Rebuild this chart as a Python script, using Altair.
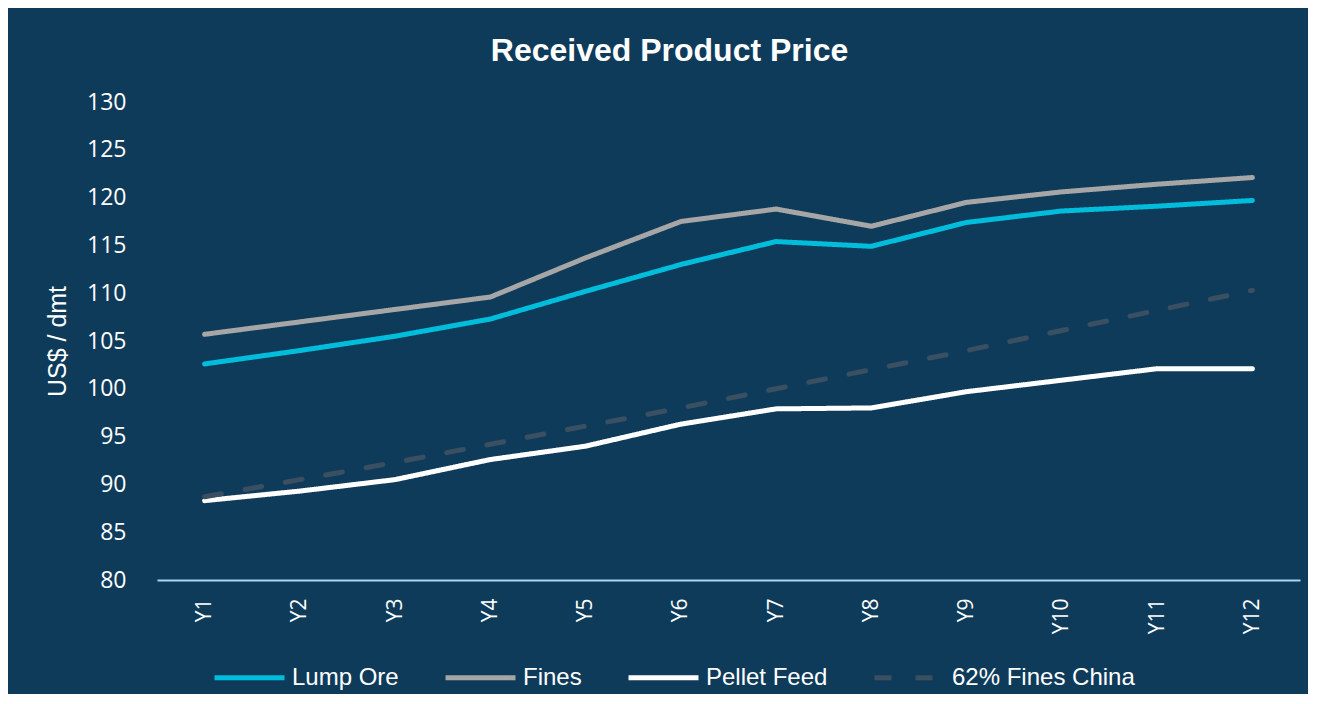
import altair as alt
import pandas as pd

years = ["Y1", "Y2", "Y3", "Y4", "Y5", "Y6", "Y7", "Y8", "Y9", "Y10", "Y11", "Y12"]
lump_ore = [102.6, 104.0, 105.5, 107.3, 110.2, 113.0, 115.4, 114.9, 117.4, 118.6, 119.1, 119.7]
fines = [105.7, 107.0, 108.3, 109.6, 113.7, 117.5, 118.8, 117.0, 119.5, 120.6, 121.4, 122.1]
pellet_feed = [88.3, 89.3, 90.5, 92.6, 94.0, 96.3, 97.9, 98.0, 99.7, 100.9, 102.1, 102.1]
fines_china = [88.7, 90.5, 92.3, 94.2, 96.1, 98.0, 100.0, 102.0, 104.0, 106.1, 108.2, 110.3]
y_ticks = [80, 85, 90, 95, 100, 105, 110, 115, 120, 125, 130]

series_names = ["Lump Ore", "Fines", "Pellet Feed", "62% Fines China"]
series_values = [lump_ore, fines, pellet_feed, fines_china]
series_colors = ["#00bedb", "#a6a6a6", "#ffffff", "#3a4f62"]
series_dash = [[1, 0], [1, 0], [1, 0], [17, 24]]

rows = []
for name, vals in zip(series_names, series_values):
    for yr, v in zip(years, vals):
        rows.append({"year": yr, "value": v, "series": name})
df = pd.DataFrame(rows)

NAVY = "#0f3b5b"

legend = alt.Legend(
    title=None, orient="none", legendX=55, legendY=538, direction="horizontal",
    symbolType="stroke", symbolSize=4900, symbolStrokeWidth=5,
    labelFontSize=24, labelFont="Liberation Sans", labelColor="white", labelLimit=400,
    columnPadding=36, labelOffset=5,
)

lines = alt.Chart(df).mark_line(strokeWidth=5, strokeCap="round", strokeJoin="round").encode(
    x=alt.X("year:O", sort=years, scale=alt.Scale(type="point", padding=0.5),
            axis=alt.Axis(title=None, labelAngle=-90, labelFont="Open Sans", labelFontSize=21,
                          labelColor="white", labelPadding=18, ticks=False,
                          domainColor="#a9d6ec", domainWidth=2)),
    y=alt.Y("value:Q", scale=alt.Scale(domain=[80, 130], nice=False, zero=False),
            axis=alt.Axis(values=y_ticks, title="US$ / dmt", grid=False, domain=False, ticks=False,
                          labelFont="Open Sans", labelFontSize=23, labelColor="white",
                          labelPadding=31, titleFont="Liberation Sans", titleFontSize=25,
                          titleFontWeight="normal", titleColor="white", titlePadding=16)),
    color=alt.Color("series:N", scale=alt.Scale(domain=series_names, range=series_colors), legend=legend),
    strokeDash=alt.StrokeDash("series:N", scale=alt.Scale(domain=series_names, range=series_dash), legend=legend),
)

chart = lines.properties(
    width=1143, height=478,
    padding={"left": 149, "top": 94, "right": 8, "bottom": 114},
    autosize=alt.AutoSizeParams(type="none"),
    background=NAVY,
    title=alt.TitleParams("Received Product Price", font="Liberation Sans", fontSize=32,
                          fontWeight="bold", color="white", anchor="middle", dx=-59,
                          offset=23),
).configure_view(stroke=None)

chart.save("out.html", embed_options={"renderer": "svg", "actions": False})
